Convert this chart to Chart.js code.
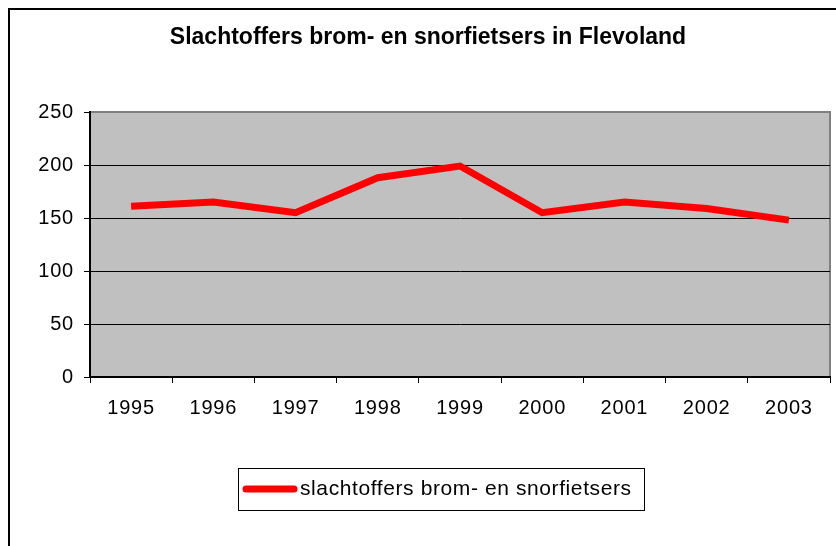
<!DOCTYPE html>
<html>
<head>
<meta charset="utf-8">
<script src="https://cdn.jsdelivr.net/npm/chart.js@4/dist/chart.umd.min.js"></script>
<style>
html,body{margin:0;padding:0;background:#fff;}
#wrap{width:836px;height:546px;position:relative;}
</style>
</head>
<body>
<div id="wrap"><canvas id="c" width="836" height="546"></canvas></div>
<script>
const titleText = "Slachtoffers brom- en snorfietsers in Flevoland";
const years = ["1995","1996","1997","1998","1999","2000","2001","2002","2003"];
const seriesLabel = "slachtoffers brom- en snorfietsers";
const victims = [161, 165, 155, 188, 199, 155, 165, 159, 148];
const yTicks = [0, 50, 100, 150, 200, 250];

const FONT = "'Liberation Sans', Arial, sans-serif";

const decor = {
  id: 'decor',
  beforeDraw(chart) {
    const ctx = chart.ctx, a = chart.chartArea;
    ctx.save();
    ctx.fillStyle = '#fff';
    ctx.fillRect(0, 0, chart.width, chart.height);
    // outer border
    ctx.strokeStyle = '#000';
    ctx.lineWidth = 2;
    ctx.strokeRect(9, 9, chart.width + 20, chart.height + 20);
    // plot area
    ctx.fillStyle = '#C0C0C0';
    ctx.fillRect(a.left, a.top, a.right - a.left, a.bottom - a.top);
    ctx.strokeStyle = '#808080';
    ctx.lineWidth = 2;
    ctx.beginPath();
    ctx.moveTo(a.left, a.top);
    ctx.lineTo(a.right, a.top);
    ctx.lineTo(a.right, a.bottom);
    ctx.stroke();
    // title
    ctx.fillStyle = '#000';
    ctx.font = "bold 23px " + FONT;
    ctx.textAlign = 'center';
    ctx.textBaseline = 'middle';
    ctx.fillText(titleText, 428, 38);
    ctx.restore();
    ctx.letterSpacing = '0.8px';
  },
  afterDraw(chart) {
    const ctx = chart.ctx;
    ctx.save();
    // legend box
    ctx.strokeStyle = '#000';
    ctx.lineWidth = 1;
    ctx.strokeRect(238.5, 468.5, 406, 42);
    ctx.strokeStyle = chart.data.datasets[0].borderColor;
    ctx.lineWidth = 7;
    ctx.lineCap = 'round';
    ctx.beginPath();
    ctx.moveTo(246, 489);
    ctx.lineTo(294, 489);
    ctx.stroke();
    ctx.fillStyle = '#000';
    ctx.font = "21px " + FONT;
    ctx.letterSpacing = '0.6px';
    ctx.textAlign = 'left';
    ctx.textBaseline = 'middle';
    ctx.fillText(chart.data.datasets[0].label, 300, 489);
    ctx.restore();
  }
};

new Chart(document.getElementById('c'), {
  type: 'line',
  data: {
    labels: years,
    datasets: [{
      label: seriesLabel,
      data: victims,
      borderColor: '#FF0000',
      borderWidth: 7,
      pointRadius: 0,
      tension: 0,
      fill: false,
      borderJoinStyle: 'miter'
    }]
  },
  options: {
    responsive: false,
    animation: false,
    devicePixelRatio: 1,
    layout: { padding: { left: 0, top: 112, right: 6, bottom: 0 } },
    plugins: {
      legend: { display: false },
      title: { display: false },
      tooltip: { enabled: false }
    },
    scales: {
      x: {
        offset: true,
        afterFit(s) { s.height = 169; },
        grid: {
          offset: true,
          drawOnChartArea: false,
          drawTicks: true,
          tickLength: 6,
          tickColor: '#000',
          tickWidth: 1
        },
        border: { display: true, color: '#000', width: 2 },
        ticks: { color: '#000', font: { family: FONT, size: 20 }, padding: 13, maxRotation: 0 }
      },
      y: {
        min: 0,
        max: 250,
        afterFit(s) { s.width = 90; },
        afterBuildTicks(s) { s.ticks = yTicks.map(v => ({ value: v })); },
        grid: {
          color: ctx => (ctx.tick && ctx.tick.value === 250) ? 'rgba(0,0,0,0)' : '#000',
          tickColor: '#000',
          tickLength: 6,
          lineWidth: 1
        },
        border: { display: true, color: '#000', width: 2 },
        ticks: { color: '#000', font: { family: FONT, size: 20 }, padding: 10 }
      }
    }
  },
  plugins: [decor]
});
</script>
</body>
</html>
